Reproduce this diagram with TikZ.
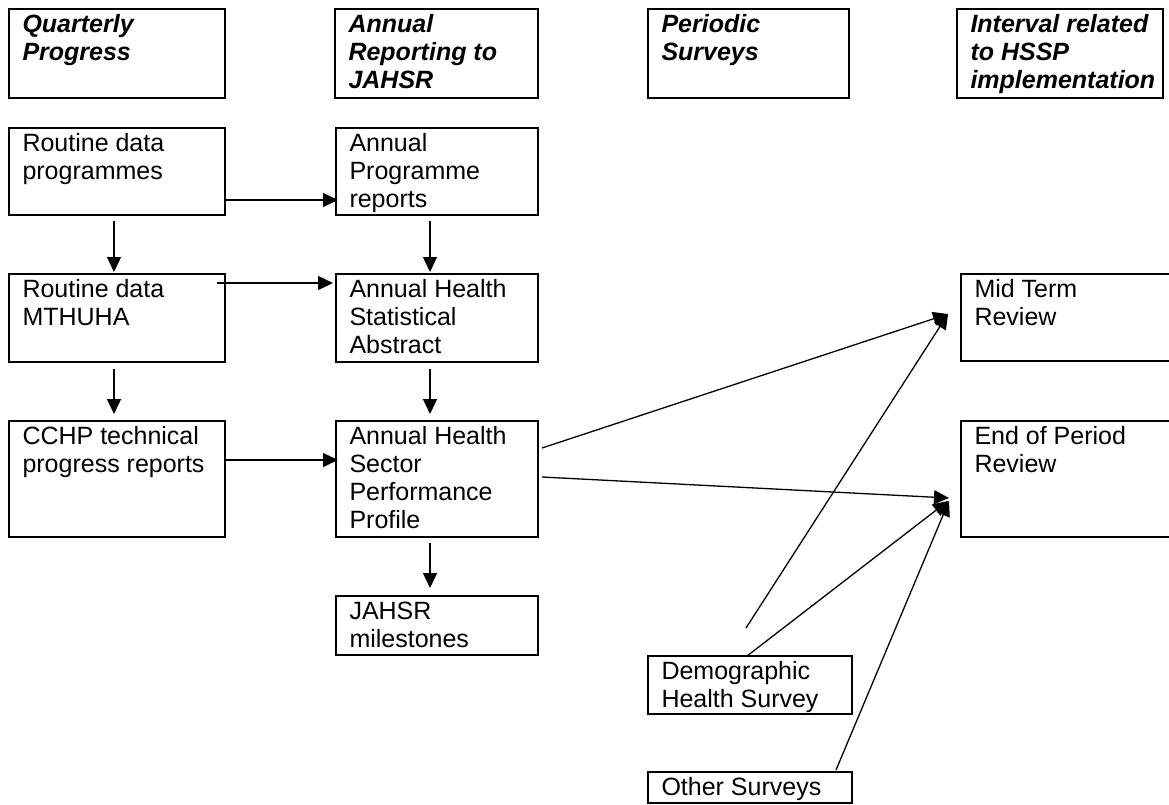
\documentclass[tikz,border=0pt]{standalone}
\usepackage{fontspec}
\setmainfont{Liberation Sans}
\usetikzlibrary{arrows.meta,calc}
\newcommand{\boxtxt}[3]{\parbox[c][#2][t]{#1}{\leftskip=13.5pt\rightskip=0pt plus 1fil\parfillskip=0pt plus 1fil\rule{0pt}{23.5pt}#3}}
\tikzset{
  bx/.style={draw, line width=1.8pt, inner sep=0pt, outer sep=0pt, anchor=north west, font=\fontsize{25}{28}\selectfont},
  hd/.style={bx, font=\fontsize{25}{28}\selectfont\bfseries\itshape},
  arr/.style={line width=1.3pt, -{Triangle[length=15pt,width=14pt]}}
}
\begin{document}
\begin{tikzpicture}[x=1pt,y=-1pt]
\useasboundingbox (0,0) rectangle (1169,804);
\clip (0,0) rectangle (1169,804);
% headers
\node[hd] (h1) at (9,9) {\boxtxt{216pt}{89pt}{Quarterly\\Progress}};
\node[hd] (h2) at (335,9) {\boxtxt{203pt}{89pt}{Annual\\Reporting to\\JAHSR}};
\node[hd] (h3) at (648,9) {\boxtxt{201pt}{89pt}{Periodic\\Surveys}};
\node[hd] (h4) at (957,9) {\boxtxt{206pt}{89pt}{Interval related\\to HSSP\\implementation}};
% column 1
\node[bx] (rdp) at (9,128) {\boxtxt{216pt}{87pt}{Routine data\\programmes}};
\node[bx] (mth) at (9,274) {\boxtxt{216pt}{88pt}{Routine data\\MTHUHA}};
\node[bx] (cchp) at (9,421) {\boxtxt{216pt}{116pt}{CCHP technical\\progress reports}};
% column 2
\node[bx] (ap) at (336,128) {\boxtxt{202pt}{87pt}{Annual\\Programme\\reports}};
\node[bx] (ahsa) at (336,274) {\boxtxt{202pt}{88pt}{Annual Health\\Statistical\\Abstract}};
\node[bx] (ahsp) at (336,421) {\boxtxt{202pt}{116pt}{Annual Health\\Sector\\Performance\\Profile}};
\node[bx] (jahsr) at (336,596) {\boxtxt{202pt}{59pt}{JAHSR\\milestones}};
% column 3
\node[bx] (demo) at (648,656) {\boxtxt{204pt}{58pt}{Demographic\\Health Survey}};
\node[bx] (oth) at (648,772) {\boxtxt{204pt}{31pt}{Other Surveys}};
% column 4
\node[bx] (mt) at (961,274) {\boxtxt{230pt}{87pt}{Mid Term\\Review}};
\node[bx] (eop) at (961,421) {\boxtxt{230pt}{116pt}{End of Period\\Review}};
% connectors column 1
\draw[arr] ($(rdp.south west)+(105,6)$) -- ($(mth.north west)+(105,-2)$);
\draw[arr] ($(mth.south west)+(105,7)$) -- ($(cchp.north west)+(105,-7)$);
% connectors column 2
\draw[arr] ($(ap.south west)+(94,6)$) -- ($(ahsa.north west)+(94,-2)$);
\draw[arr] ($(ahsa.south west)+(94,7)$) -- ($(ahsp.north west)+(94,-7)$);
\draw[arr] ($(ahsp.south west)+(94,6)$) -- ($(jahsr.north west)+(94,-8)$);
% horizontal connectors
\draw[arr] ($(rdp.south east)+(0,-15)$) -- ($(ap.south west)+(2,-15)$);
\draw[arr] ($(mth.north east)+(-8,9)$) -- ($(ahsa.north west)+(-3,9)$);
\draw[arr] ($(cchp.north east)+(0,39)$) -- ($(ahsp.north west)+(2,39)$);
% to reviews
\coordinate (dfree) at (746,628);
\draw[arr] ($(ahsp.north east)+(4,27)$) -- ($(mt.north west)+(-13,40)$);
\draw[arr] (dfree) -- ($(mt.north west)+(-13,40)$);
\draw[arr] ($(ahsp.north east)+(4,56)$) -- ($(eop.north west)+(-12,77)$);
\draw[arr] ($(demo.north west)+(99,0)$) -- ($(eop.north west)+(-13,80)$);
\draw[arr] ($(oth.north west)+(188,-2)$) -- ($(eop.north west)+(-12,80)$);
\end{tikzpicture}
\end{document}
